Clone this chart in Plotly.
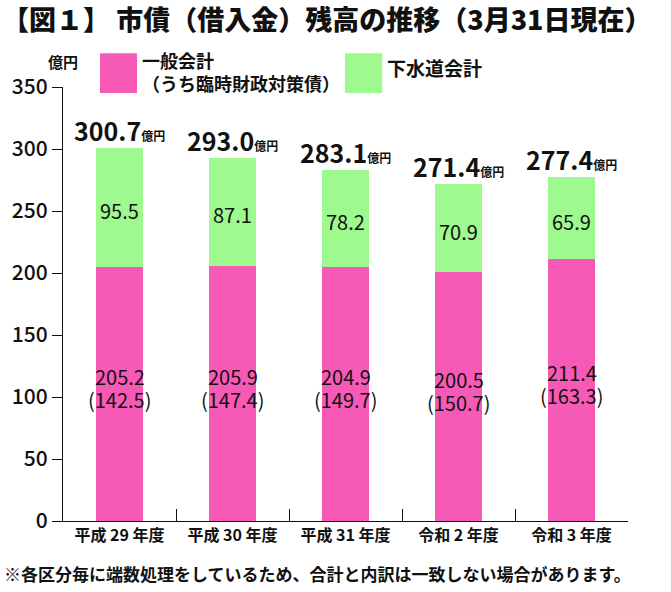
import plotly.graph_objects as go

categories = ["平成 29 年度", "平成 30 年度", "平成 31 年度", "令和 2 年度", "令和 3 年度"]
general = [205.2, 205.9, 204.9, 200.5, 211.4]
rinji = [142.5, 147.4, 149.7, 150.7, 163.3]
sewer = [95.5, 87.1, 78.2, 70.9, 65.9]
totals = [300.7, 293.0, 283.1, 271.4, 277.4]

PINK = "#F75AB6"
GREEN = "#9EF98E"
FONT = "Noto Sans CJK JP"

fig = go.Figure()
fig.add_trace(go.Bar(x=categories, y=general, marker=dict(color=PINK, line=dict(width=0)),
                     width=0.415, name="一般会計", showlegend=False, hoverinfo="skip"))
fig.add_trace(go.Bar(x=categories, y=sewer, marker=dict(color=GREEN, line=dict(width=0)),
                     width=0.415, name="下水道会計", showlegend=False, hoverinfo="skip"))

ann = []
for c, g, r, s, t in zip(categories, general, rinji, sewer, totals):
    ann.append(dict(x=c, y=g / 2, xref="x", yref="y", text=f"{g:.1f}",
                    showarrow=False, yshift=17, font=dict(family=FONT, size=20, color="#111")))
    ann.append(dict(x=c, y=g / 2, xref="x", yref="y", text=f"({r:.1f})",
                    showarrow=False, yshift=-6, font=dict(family=FONT, size=20, color="#111")))
    ann.append(dict(x=c, y=g + s / 2, xref="x", yref="y", text=f"{s:.1f}",
                    showarrow=False, yshift=-3, font=dict(family=FONT, size=20, color="#111")))
    ann.append(dict(x=c, y=t, xref="x", yref="y", yanchor="bottom",
                    text=f"<b>{t:.1f}</b><span style='font-size:12px'><b>億円</b></span>",
                    showarrow=False, yshift=-2,
                    font=dict(family=FONT, size=25, color="#111", weight=900)))

# unit label
ann.append(dict(x=0, y=1.058, xref="paper", yref="paper", text="<b>億円</b>", showarrow=False,
                xanchor="center", yanchor="middle", font=dict(family=FONT, size=15, color="#111")))
# legend text
ann.append(dict(x=0.136, y=1.035, xref="paper", yref="paper",
                text="<b>一般会計<br>（うち臨時財政対策債）</b>", showarrow=False, align="left",
                xanchor="left", yanchor="middle", font=dict(family=FONT, size=18, color="#111")))
ann.append(dict(x=0.57, y=1.045, xref="paper", yref="paper", text="<b>下水道会計</b>",
                showarrow=False, xanchor="left", yanchor="middle",
                font=dict(family=FONT, size=19, color="#111")))
# footnote
ann.append(dict(x=-0.108, y=-0.12, xref="paper", yref="paper",
                text="<b>※各区分毎に端数処理をしているため、合計と内訳は一致しない場合があります。</b>",
                showarrow=False, xanchor="left", yanchor="middle",
                font=dict(family=FONT, size=17, color="#111", weight=900)))

shapes = [
    dict(type="rect", xref="paper", yref="paper", x0=0.0655, x1=0.131, y0=0.986, y1=1.078,
         fillcolor=PINK, line=dict(width=0)),
    dict(type="rect", xref="paper", yref="paper", x0=0.499, x1=0.565, y0=0.986, y1=1.078,
         fillcolor=GREEN, line=dict(width=0)),
]

fig.update_layout(
    barmode="stack",
    width=671, height=592,
    margin=dict(l=63, r=43, t=87, b=71),
    paper_bgcolor="white", plot_bgcolor="white",
    font=dict(family=FONT, color="#111"),
    title=dict(text="【図１】 市債（借入金）残高の推移（3月31日現在）",
               x=0.003, xanchor="left", y=0.966, yanchor="middle", yref="container",
               font=dict(family=FONT, size=27, color="#111", weight=900)),
    annotations=ann,
    shapes=shapes,
    showlegend=False,
)
fig.update_xaxes(type="category", range=[-0.5, 4.5], tickson="boundaries", ticks="inside",
                 ticklen=12, tickwidth=1.3, tickcolor="#111", showline=True, linecolor="#111",
                 linewidth=1.3, showgrid=False, automargin=False,
                 tickfont=dict(family=FONT, size=16, color="#111", weight=700))
fig.update_yaxes(range=[0, 350], dtick=50, ticks="outside", ticklen=10, tickwidth=1.3,
                 tickcolor="#111", showline=True, linecolor="#111", linewidth=1.3, showgrid=False,
                 zeroline=False, automargin=False,
                 tickfont=dict(family=FONT, size=21, color="#111", weight=500))

fig.write_html("out.html", config={"displayModeBar": False},
               post_script="document.body.style.margin='0';")
